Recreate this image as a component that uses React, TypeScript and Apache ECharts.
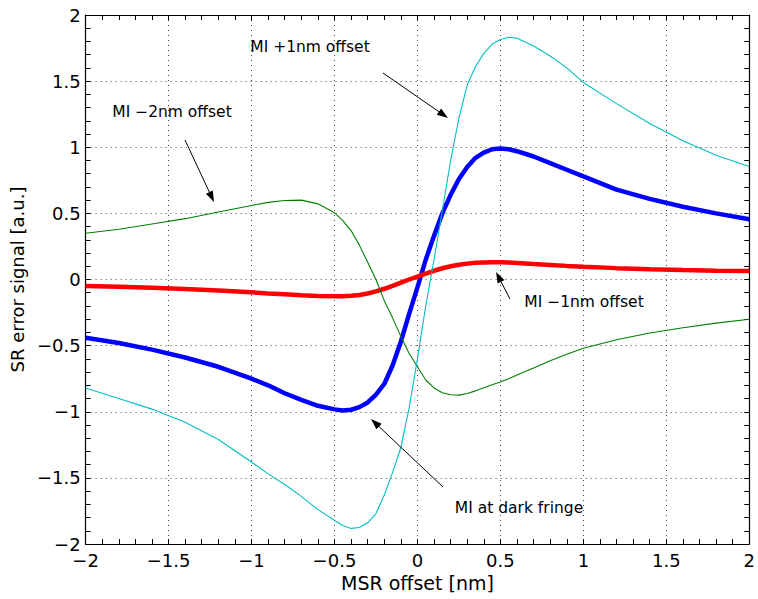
import React, { useEffect, useRef } from "react";
import * as echarts from "echarts";

// MSR offset [nm]
const xValues = [
  -2, -1.8, -1.6, -1.4, -1.2, -1.0, -0.9, -0.8, -0.7, -0.6, -0.5, -0.45, -0.4, -0.35,
  -0.3, -0.25, -0.2, -0.15, -0.1, -0.05, 0, 0.05, 0.1, 0.15, 0.2, 0.25, 0.3, 0.35, 0.4,
  0.45, 0.5, 0.55, 0.6, 0.7, 0.8, 0.9, 1.0, 1.2, 1.4, 1.6, 1.8, 2.0,
];

// MI at dark fringe (thick blue)
const darkFringe = [
  -0.44, -0.48, -0.53, -0.59, -0.66, -0.75, -0.8, -0.86, -0.91, -0.955, -0.982, -0.99, -0.985, -0.965,
  -0.93, -0.87, -0.79, -0.65, -0.47, -0.26, -0.06, 0.15, 0.33, 0.5, 0.64, 0.76, 0.85, 0.92, 0.96,
  0.985, 0.99, 0.985, 0.97, 0.93, 0.88, 0.83, 0.78, 0.68, 0.61, 0.55, 0.5, 0.455,
];

// MI +1nm offset (cyan)
const plus1nm = [
  -0.82, -0.9, -0.98, -1.08, -1.21, -1.38, -1.47, -1.55, -1.64, -1.74, -1.82, -1.86, -1.882, -1.875,
  -1.84, -1.77, -1.63, -1.46, -1.27, -0.97, -0.6, -0.2, 0.15, 0.52, 0.9, 1.22, 1.47, 1.61, 1.71,
  1.78, 1.815, 1.832, 1.825, 1.765, 1.69, 1.6, 1.49, 1.33, 1.18, 1.05, 0.94, 0.855,
];

// MI -1nm offset (thick red)
const minus1nm = [
  -0.05, -0.055, -0.063, -0.072, -0.083, -0.097, -0.105, -0.112, -0.119, -0.124, -0.126, -0.126, -0.123, -0.117,
  -0.106, -0.09, -0.07, -0.048, -0.023, 0.0, 0.022, 0.045, 0.066, 0.085, 0.1, 0.112, 0.12, 0.126, 0.129,
  0.13, 0.13, 0.128, 0.125, 0.117, 0.11, 0.103, 0.097, 0.086, 0.077, 0.071, 0.067, 0.064,
];

// MI -2nm offset (green)
const minus2nm = [
  0.35, 0.38, 0.42, 0.46, 0.51, 0.56, 0.583, 0.597, 0.6, 0.572, 0.505, 0.445, 0.37, 0.26,
  0.13, 0.0, -0.16, -0.29, -0.43, -0.56, -0.66, -0.76, -0.82, -0.856, -0.872, -0.874, -0.862, -0.842, -0.818,
  -0.796, -0.775, -0.75, -0.722, -0.67, -0.615, -0.565, -0.52, -0.455, -0.405, -0.365, -0.33, -0.3,
];

const annotationTexts = ["MI +1nm offset", "MI \u22122nm offset", "MI \u22121nm offset", "MI at dark fringe"];

const FONT = '"DejaVu Sans", "Liberation Sans", sans-serif';

const layoutAnn = [
  { tx: 310, ty: 47, from: [383, 73], to: [448, 118] },
  { tx: 172, ty: 112, from: [185, 140], to: [214, 202] },
  { tx: 584, ty: 302, from: [510, 299], to: [496, 272] },
  { tx: 519, ty: 508, from: [443, 487], to: [371, 419] },
];

function arrow(from: number[], to: number[]) {
  const dx = to[0] - from[0];
  const dy = to[1] - from[1];
  const len = Math.sqrt(dx * dx + dy * dy);
  const ux = dx / len;
  const uy = dy / len;
  const hl = 11;
  const hw = 3.8;
  const bx = to[0] - ux * hl;
  const by = to[1] - uy * hl;
  return [
    {
      type: "line",
      shape: { x1: from[0], y1: from[1], x2: bx, y2: by },
      style: { stroke: "#000", lineWidth: 1 },
      z: 100,
    },
    {
      type: "polygon",
      shape: {
        points: [
          [to[0], to[1]],
          [bx - uy * hw, by + ux * hw],
          [bx + uy * hw, by - ux * hw],
        ],
      },
      style: { fill: "#000" },
      z: 100,
    },
  ];
}

const fmt = (v: number) => String(v).replace("-", "\u2212");

export default function App() {
  const ref = useRef<HTMLDivElement>(null);
  useEffect(() => {
    document.body.style.margin = "0";
    if (!ref.current) return;
    const chart = echarts.init(ref.current, null, { renderer: "svg" });
    const mk = (ys: number[]) => xValues.map((x, i) => [x, ys[i]]);
    const gridLine = { show: true, lineStyle: { color: "#444", type: [1, 4], width: 1 } };
    const axisCommon = {
      type: "value",
      min: -2,
      max: 2,
      interval: 0.5,
      axisLine: { show: true, onZero: false, lineStyle: { color: "#000", width: 1.2 } },
      axisTick: { show: true, inside: true, length: 5, lineStyle: { color: "#000" } },
      minorTick: { show: true, splitNumber: 5, length: 5, lineStyle: { color: "#000" } },
    };
    const graphics: any[] = [];
    layoutAnn.forEach((a, i) => {
      graphics.push({
        type: "text",
        x: a.tx,
        y: a.ty,
        z: 100,
        style: {
          text: annotationTexts[i],
          fontSize: 15.5,
          fontFamily: FONT,
          fill: "#000",
          align: "center",
          verticalAlign: "middle",
        },
      });
      graphics.push(...arrow(a.from, a.to));
    });
    chart.setOption({
      animation: false,
      backgroundColor: "#fff",
      grid: { left: 82, right: 5, top: 15, bottom: 55, containLabel: false },
      xAxis: [
        {
          ...axisCommon,
          position: "bottom",
          name: "MSR offset [nm]",
          nameLocation: "middle",
          nameGap: 25,
          nameTextStyle: { fontSize: 19, fontFamily: FONT, color: "#000" },
          axisLabel: { fontSize: 18, fontFamily: FONT, color: "#000", margin: 7, formatter: fmt },
          splitLine: gridLine,
        },
        {
          ...axisCommon,
          position: "top",
          axisLabel: { show: false },
          splitLine: { show: false },
        },
      ],
      yAxis: [
        {
          ...axisCommon,
          position: "left",
          name: "SR error signal [a.u.]",
          nameLocation: "middle",
          nameGap: 52,
          nameTextStyle: { fontSize: 18, fontFamily: FONT, color: "#000" },
          axisLabel: { fontSize: 18, fontFamily: FONT, color: "#000", margin: 5, formatter: fmt },
          splitLine: gridLine,
        },
        {
          ...axisCommon,
          position: "right",
          axisLabel: { show: false },
          splitLine: { show: false },
        },
      ],
      series: [
        {
          type: "line",
          data: mk(darkFringe),
          showSymbol: false,
          smooth: false,
          lineStyle: { color: "#0000ff", width: 4.5 },
          z: 3,
        },
        {
          type: "line",
          data: mk(minus1nm),
          showSymbol: false,
          smooth: false,
          lineStyle: { color: "#ff0000", width: 4.5 },
          z: 4,
        },
        {
          type: "line",
          data: mk(minus2nm),
          showSymbol: false,
          smooth: false,
          lineStyle: { color: "#008000", width: 1.1 },
          z: 5,
        },
        {
          type: "line",
          data: mk(plus1nm),
          showSymbol: false,
          smooth: false,
          lineStyle: { color: "#00bfbf", width: 1.1 },
          z: 6,
        },
      ],
      graphic: graphics,
    });
    return () => chart.dispose();
  }, []);
  return <div ref={ref} style={{ width: 758, height: 599 }} />;
}
